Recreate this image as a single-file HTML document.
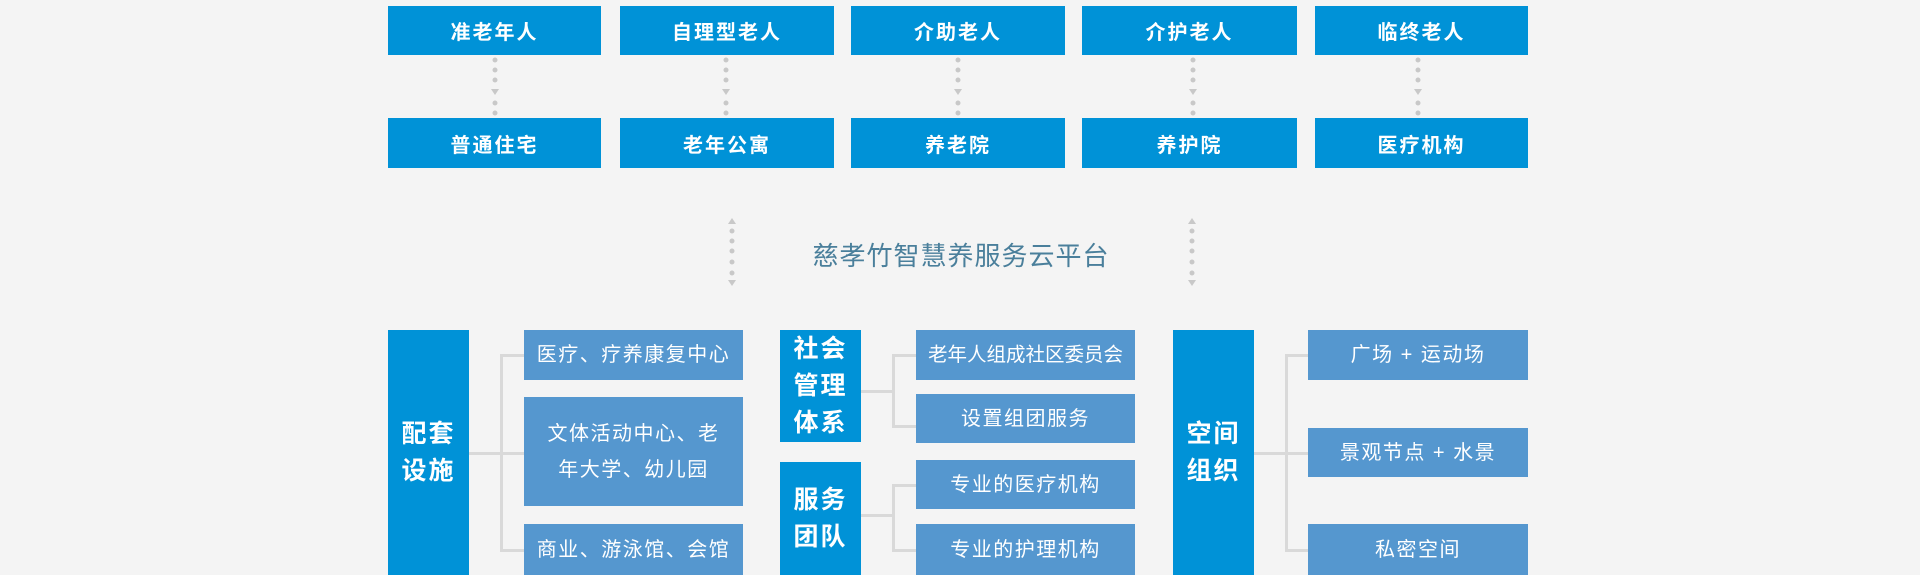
<!DOCTYPE html>
<html><head><meta charset="utf-8"><style>
*{margin:0;padding:0;box-sizing:border-box}
body{width:1920px;height:575px;background:#f4f4f4;position:relative;overflow:hidden;font-family:"Liberation Sans","Noto Sans CJK SC",sans-serif}
.b{position:absolute;display:flex;align-items:center;justify-content:center;color:#fff;text-align:center}
.t{background:#0092d7;font-size:20px;font-weight:bold;letter-spacing:2px}
.s{background:#5597cf;font-size:20px;line-height:36px;letter-spacing:1.5px}
.m{background:#0092d7;font-size:25px;font-weight:bold;line-height:37px;letter-spacing:2px}
.l{position:absolute;background:#d9d9d9}
</style></head><body>
<div class="b t" style="left:388px;top:6px;width:213px;height:49px">准老年人</div>
<div class="b t" style="left:620px;top:6px;width:214px;height:49px">自理型老人</div>
<div class="b t" style="left:851px;top:6px;width:214px;height:49px">介助老人</div>
<div class="b t" style="left:1082px;top:6px;width:215px;height:49px">介护老人</div>
<div class="b t" style="left:1315px;top:6px;width:213px;height:49px">临终老人</div>
<div class="b t" style="left:388px;top:118px;width:213px;height:50px">普通住宅</div>
<div class="b t" style="left:620px;top:118px;width:214px;height:50px">老年公寓</div>
<div class="b t" style="left:851px;top:118px;width:214px;height:50px">养老院</div>
<div class="b t" style="left:1082px;top:118px;width:215px;height:50px">养护院</div>
<div class="b t" style="left:1315px;top:118px;width:213px;height:50px">医疗机构</div>
<svg width="1920" height="575" style="position:absolute;left:0;top:0">
<defs>
<g id="d1" fill="#c8c8c8"><circle cx="0" cy="60" r="2.5"/><circle cx="0" cy="70" r="2.5"/><circle cx="0" cy="80" r="2.5"/><polygon points="-4,89 4,89 0,95"/><circle cx="0" cy="103" r="2.5"/><circle cx="0" cy="113" r="2.5"/></g>
<g id="d2" fill="#c8c8c8"><polygon points="-4,224 4,224 0,218"/><circle cx="0" cy="231" r="2.5"/><circle cx="0" cy="241" r="2.5"/><circle cx="0" cy="251" r="2.5"/><circle cx="0" cy="262" r="2.5"/><circle cx="0" cy="273" r="2.5"/><polygon points="-4,280 4,280 0,286"/></g>
</defs>
<use href="#d1" x="495"/><use href="#d1" x="726"/><use href="#d1" x="958"/><use href="#d1" x="1193"/><use href="#d1" x="1418"/>
<use href="#d2" x="732"/><use href="#d2" x="1192"/>
</svg>
<div style="position:absolute;left:810px;top:236px;width:302px;text-align:center;font-size:26px;color:#4a7f9b;letter-spacing:1px">慈孝竹智慧养服务云平台</div>

<div class="b m" style="left:388px;top:330px;width:81px;height:245px">配套<br>设施</div>
<div class="l" style="left:469px;top:452px;width:33px;height:3px"></div>
<div class="l" style="left:500px;top:354px;width:3px;height:198px"></div>
<div class="l" style="left:500px;top:354px;width:24px;height:3px"></div>
<div class="l" style="left:500px;top:452px;width:24px;height:3px"></div>
<div class="l" style="left:500px;top:549px;width:24px;height:3px"></div>
<div class="b s" style="left:524px;top:330px;width:219px;height:50px">医疗、疗养康复中心</div>
<div class="b s" style="left:524px;top:397px;width:219px;height:109px">文体活动中心、老<br>年大学、幼儿园</div>
<div class="b s" style="left:524px;top:524px;width:219px;height:51px">商业、游泳馆、会馆</div>

<div class="b m" style="left:780px;top:330px;width:81px;height:112px">社会<br>管理<br>体系</div>
<div class="b m" style="left:780px;top:462px;width:81px;height:113px">服务<br>团队</div>
<div class="l" style="left:861px;top:390px;width:33px;height:3px"></div>
<div class="l" style="left:892px;top:354px;width:3px;height:73px"></div>
<div class="l" style="left:892px;top:354px;width:24px;height:3px"></div>
<div class="l" style="left:892px;top:425px;width:24px;height:3px"></div>
<div class="l" style="left:861px;top:514px;width:33px;height:3px"></div>
<div class="l" style="left:892px;top:484px;width:3px;height:67px"></div>
<div class="l" style="left:892px;top:484px;width:24px;height:3px"></div>
<div class="l" style="left:892px;top:549px;width:24px;height:3px"></div>
<div class="b s" style="left:916px;top:330px;width:219px;height:50px;letter-spacing:0;font-size:19.5px">老年人组成社区委员会</div>
<div class="b s" style="left:916px;top:394px;width:219px;height:49px">设置组团服务</div>
<div class="b s" style="left:916px;top:460px;width:219px;height:49px">专业的医疗机构</div>
<div class="b s" style="left:916px;top:524px;width:219px;height:51px">专业的护理机构</div>

<div class="b m" style="left:1173px;top:330px;width:81px;height:245px">空间<br>组织</div>
<div class="l" style="left:1254px;top:452px;width:33px;height:3px"></div>
<div class="l" style="left:1285px;top:354px;width:3px;height:198px"></div>
<div class="l" style="left:1285px;top:354px;width:23px;height:3px"></div>
<div class="l" style="left:1285px;top:549px;width:23px;height:3px"></div>
<div class="l" style="left:1285px;top:452px;width:23px;height:3px"></div>
<div class="b s" style="left:1308px;top:330px;width:220px;height:50px">广场 + 运动场</div>
<div class="b s" style="left:1308px;top:428px;width:220px;height:49px">景观节点 + 水景</div>
<div class="b s" style="left:1308px;top:524px;width:220px;height:51px">私密空间</div>
</body></html>
